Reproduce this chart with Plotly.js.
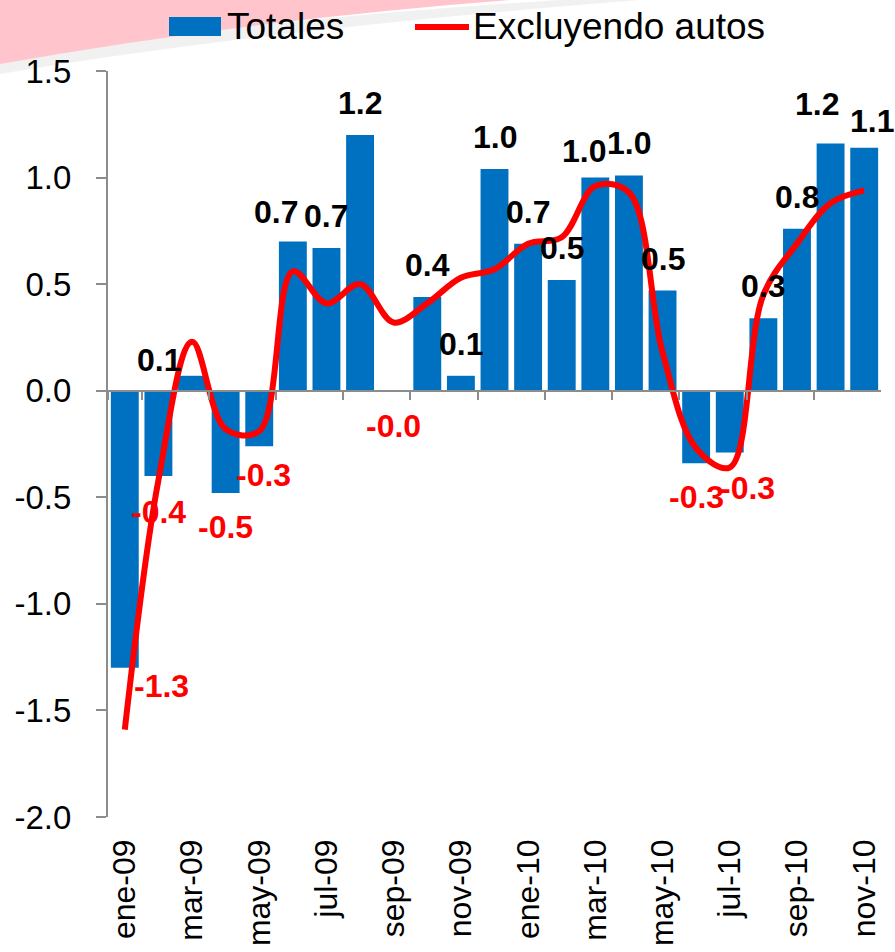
<!DOCTYPE html>
<html><head><meta charset="utf-8">
<script src="https://cdn.plot.ly/plotly-3.0.1.min.js"></script>
<style>html,body{margin:0;padding:0;background:#fff;}#chart{width:895px;height:952px;}</style>
</head><body><div id="chart"></div>
<script>
// ---- data ----
const months = ['ene-09','feb-09','mar-09','abr-09','may-09','jun-09','jul-09','ago-09','sep-09','oct-09','nov-09','dic-09',
                'ene-10','feb-10','mar-10','abr-10','may-10','jun-10','jul-10','ago-10','sep-10','oct-10','nov-10'];
const totales = [-1.30, -0.40, 0.07, -0.48, -0.26, 0.70, 0.67, 1.20, -0.004, 0.44, 0.07, 1.04,
                 0.69, 0.52, 1.00, 1.01, 0.47, -0.34, -0.29, 0.34, 0.76, 1.16, 1.14];
const exclAutos = [-1.59, -0.42, 0.23, -0.18, -0.19, 0.56, 0.41, 0.50, 0.32, 0.41, 0.53, 0.57,
                   0.69, 0.72, 0.96, 0.93, 0.18, -0.27, -0.36, 0.45, 0.69, 0.88, 0.94];
const seriesNames = ['Totales', 'Excluyendo autos'];
const yTicks = [-2.0, -1.5, -1.0, -0.5, 0.0, 0.5, 1.0, 1.5];

// ---- style ----
const FONT = 'Arial, "Liberation Sans", sans-serif';
const BLUE = '#0070C0', RED = '#FF0000', AXIS = '#8c8c8c';
const W = 895, H = 952, M = {l:108, r:14, t:71, b:135};
const yRange = [-2, 1.5];
const pw = W - M.l - M.r, ph = H - M.t - M.b;
const px2x = px => (px - M.l) / pw;
const py2y = py => (H - M.b - py) / ph;

// manual label nudges (as placed in the original): index -> [dx px, gap px]
const labelNudge = {0:[37,5], 1:[0,23], 2:[-33,3], 4:[4,16], 5:[-17,17], 14:[-11,14], 21:[-14,26], 22:[8,14], 18:[18,22]};

const idx = months.map((m,i)=>i);
const labelTicks = months.filter((m,i)=>i%2===0);
const boundaryTicks = idx.filter(i=>i%2===1 && i<months.length-1).map(i=>i-0.5).concat([-0.5]);

const traces = [
  {type:'bar', x:months, y:totales, name:seriesNames[0], marker:{color:BLUE}, showlegend:false, hoverinfo:'x+y'},
  {type:'scatter', mode:'lines', x:months, y:exclAutos, name:seriesNames[1],
   line:{color:RED, width:6, shape:'spline', smoothing:1}, showlegend:false},
  {type:'scatter', mode:'lines', x:[null], y:[null], xaxis:'x2', showlegend:false, hoverinfo:'skip'}
];

const annotations = totales.map((v,i)=>{
  const n = labelNudge[i] || [0, v>=0 ? 19 : 21];
  const pos = v >= 0;
  return {x:months[i], y:v, xref:'x', yref:'y', text:v.toFixed(1), showarrow:false,
          xanchor:'center', yanchor: pos?'bottom':'top', xshift:n[0], yshift: pos ? (n[1]-7) : -(n[1]-7),
          font:{family:FONT, size:32, color: pos?'#000':RED, weight:'bold'}};
});

// legend (drawn to match the original swatch shapes)
annotations.push({xref:'paper', yref:'paper', x:px2x(225), y:py2y(27), xanchor:'left', yanchor:'middle',
  text:seriesNames[0], showarrow:false, font:{family:FONT, size:37, color:'#000'}});
annotations.push({xref:'paper', yref:'paper', x:px2x(471), y:py2y(27), xanchor:'left', yanchor:'middle',
  text:seriesNames[1], showarrow:false, font:{family:FONT, size:37, color:'#000'}});

const P = (px,py)=> px2x(px).toFixed(4)+','+py2y(py).toFixed(4);
const shapes = [
  {type:'path', xref:'paper', yref:'paper', layer:'below', line:{width:0}, fillcolor:'rgba(238,238,238,0.8)',
   path:'M'+P(0,58)+' Q'+P(250,20)+' '+P(560,0)+' L'+P(640,0)+' Q'+P(260,30)+' '+P(0,74)+' Z'},
  {type:'path', xref:'paper', yref:'paper', layer:'below', line:{width:0}, fillcolor:'rgb(255,196,204)',
   path:'M'+P(0,0)+' L'+P(510,0)+' Q'+P(250,20)+' '+P(0,64)+' Z'},
  {type:'rect', xref:'paper', yref:'paper', x0:px2x(169), x1:px2x(221), y0:py2y(36), y1:py2y(17),
   fillcolor:BLUE, line:{width:0}},
  {type:'line', xref:'paper', yref:'paper', x0:px2x(415), x1:px2x(469), y0:py2y(27), y1:py2y(27),
   line:{color:RED, width:6}}
];

const layout = {
  width:W, height:H, margin:M, paper_bgcolor:'#fff', plot_bgcolor:'rgba(0,0,0,0)',
  font:{family:FONT, color:'#000'}, showlegend:false, bargap:0.17,
  xaxis:{type:'category', categoryorder:'array', categoryarray:months, range:[-0.5, months.length-0.5],
         tickmode:'array', tickvals:labelTicks, ticktext:labelTicks, tickangle:-90, ticks:'',
         showline:false, showgrid:false, zeroline:false, tickfont:{family:FONT, size:32}, ticklabelstandoff:15},
  xaxis2:{type:'linear', overlaying:'x', anchor:'free', position:(0-yRange[0])/(yRange[1]-yRange[0]),
          range:[-0.5, months.length-0.5], tickmode:'array', tickvals:boundaryTicks, ticks:'outside',
          ticklen:8, tickwidth:2, tickcolor:AXIS, showline:true, linecolor:AXIS, linewidth:2,
          showticklabels:false, showgrid:false, zeroline:false},
  yaxis:{range:yRange, tickmode:'array', tickvals:yTicks, ticktext:yTicks.map(v=>v.toFixed(1)),
         showline:true, linecolor:AXIS, linewidth:2, ticks:'outside', ticklen:10, tickwidth:2, tickcolor:AXIS,
         showgrid:false, zeroline:false, tickfont:{family:FONT, size:33}, ticklabelstandoff:18},
  annotations:annotations, shapes:shapes
};

Plotly.newPlot('chart', traces, layout, {displayModeBar:false, staticPlot:true});
</script>
</body></html>
